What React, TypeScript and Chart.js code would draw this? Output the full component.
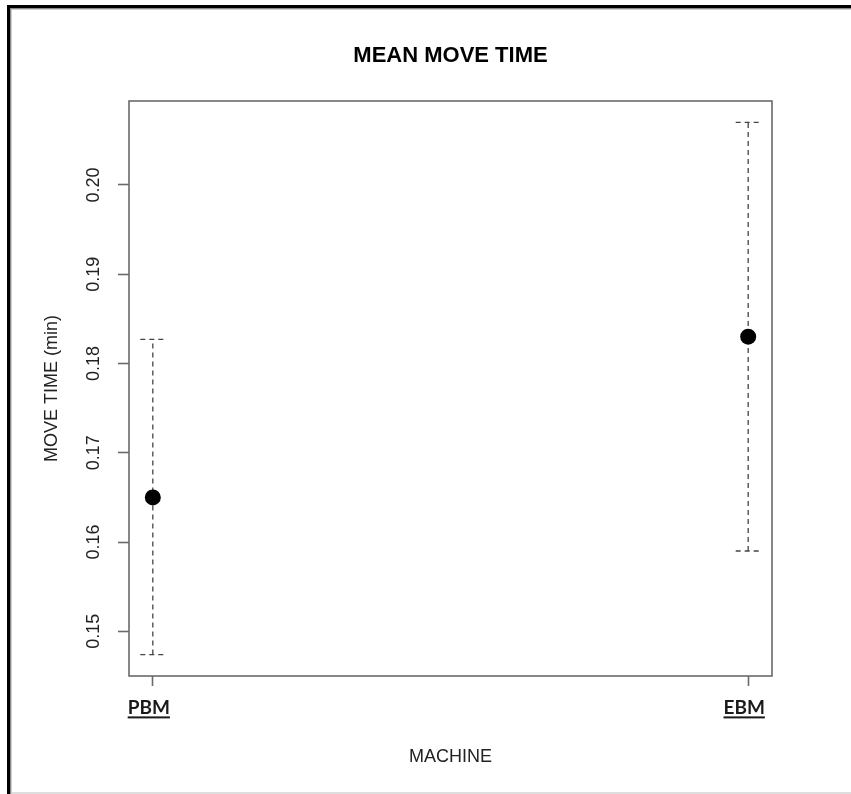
import React, { useEffect, useRef } from "react";
import { Chart, registerables } from "chart.js";

Chart.register(...registerables);

// ---- data ----
const categories = ["PBM", "EBM"];
const xPositions = [1, 2];
const means = [0.165, 0.183];
const lowerBounds = [0.1474, 0.159];
const upperBounds = [0.1827, 0.207];
const yTickValues = [0.15, 0.16, 0.17, 0.18, 0.19, 0.2];
const yMin = 0.145;
const yMax = 0.2094;
const xMin = 0.96;
const xMax = 2.04;
const capHalfWidth = 0.021;

const BASE_FONT = "'Liberation Sans', Arial, sans-serif";
const LABEL_FONT = "Lato, 'Liberation Sans', sans-serif";
const X_LABEL_OFFSET = -4;
const X_LABEL_SIZE = 19;

const framePlugin = {
  id: "frame",
  beforeDraw(chart: any) {
    const { ctx, width, height } = chart;
    ctx.save();
    ctx.fillStyle = "#ffffff";
    ctx.fillRect(0, 0, width, height);
    // light bottom line
    ctx.fillStyle = "#dedede";
    ctx.fillRect(10, height - 2, width - 10, 2);
    // black outer frame (left + top)
    ctx.fillStyle = "#000000";
    ctx.fillRect(7, 5, 3, height - 5);
    ctx.fillRect(7, 5, width - 7, 3);
    ctx.fillStyle = "#8a8a8a";
    ctx.fillRect(10, 8, 1, height - 8);
    ctx.fillRect(10, 8, width - 10, 1);
    ctx.fillStyle = "#cfcfcf";
    ctx.fillRect(11, 9, 1, height - 9);
    ctx.fillRect(11, 9, width - 11, 1);
    ctx.restore();
  },
  afterDraw(chart: any) {
    const { ctx, chartArea } = chart;
    ctx.save();
    // plot box
    ctx.strokeStyle = "#6a6a6a";
    ctx.lineWidth = 1.6;
    ctx.setLineDash([]);
    ctx.strokeRect(chartArea.left, chartArea.top, chartArea.right - chartArea.left, chartArea.bottom - chartArea.top);
    // underline x tick labels
    const xs = chart.scales.x;
    ctx.font = `bold ${X_LABEL_SIZE}px ${LABEL_FONT}`;
    ctx.fillStyle = "#1a1a1a";
    const centerY = xs.top + 10 + 10 + (X_LABEL_SIZE * 1.2) / 2;
    xs.ticks.forEach((t: any) => {
      const idx = xPositions.indexOf(Number(t.value));
      if (idx < 0) return;
      const label = categories[idx];
      const w = ctx.measureText(label).width;
      const cx = xs.getPixelForValue(t.value) + X_LABEL_OFFSET;
      ctx.fillRect(cx - w / 2, centerY + 9, w, 2);
    });
    ctx.restore();
  },
};

export default function App() {
  const canvasRef = useRef<HTMLCanvasElement | null>(null);

  useEffect(() => {
    if (!canvasRef.current) return;
    Chart.defaults.font.family = BASE_FONT;

    const barColor = "#444444";
    const dash = [5, 4];
    const datasets: any[] = [];

    datasets.push({
      label: "mean",
      data: xPositions.map((x, i) => ({ x, y: means[i] })),
      showLine: false,
      pointRadius: 8,
      pointHoverRadius: 8,
      backgroundColor: "#000000",
      borderColor: "#000000",
      pointBorderWidth: 0,
    });

    xPositions.forEach((x, i) => {
      datasets.push({
        label: `bar-${i}`,
        data: [
          { x, y: lowerBounds[i] },
          { x, y: upperBounds[i] },
        ],
        showLine: true,
        pointRadius: 0,
        borderColor: barColor,
        borderWidth: 1.3,
        borderDash: dash,
      });
      datasets.push({
        label: `capU-${i}`,
        data: [
          { x: x - capHalfWidth, y: upperBounds[i] },
          { x: x + capHalfWidth, y: upperBounds[i] },
        ],
        showLine: true,
        pointRadius: 0,
        borderColor: barColor,
        borderWidth: 1.3,
        borderDash: dash,
      });
      datasets.push({
        label: `capL-${i}`,
        data: [
          { x: x - capHalfWidth, y: lowerBounds[i] },
          { x: x + capHalfWidth, y: lowerBounds[i] },
        ],
        showLine: true,
        pointRadius: 0,
        borderColor: barColor,
        borderWidth: 1.3,
        borderDash: dash,
      });
    });

    const chart = new Chart(canvasRef.current, {
      type: "scatter",
      data: { datasets },
      plugins: [framePlugin],
      options: {
        animation: false,
        responsive: false,
        devicePixelRatio: 1,
        layout: { padding: { left: 0, right: 79, top: 0, bottom: 0 } },
        plugins: {
          legend: { display: false },
          tooltip: { enabled: false },
          title: {
            display: true,
            fullSize: false,
            text: "MEAN MOVE TIME",
            color: "#000000",
            font: { family: BASE_FONT, size: 22, weight: "bold" },
            padding: { top: 43, bottom: 31.6 },
          },
        },
        scales: {
          x: {
            type: "linear",
            position: "bottom",
            min: xMin,
            max: xMax,
            afterBuildTicks: (s: any) => {
              s.ticks = xPositions.map((v) => ({ value: v }));
            },
            afterFit: (s: any) => {
              s.height = 118;
            },
            ticks: {
              autoSkip: false,
              maxRotation: 0,
              minRotation: 0,
              padding: 10,
              labelOffset: X_LABEL_OFFSET,
              color: "#1a1a1a",
              font: { family: LABEL_FONT, size: X_LABEL_SIZE, weight: "bold" },
              callback: (v: any) => {
                const idx = xPositions.indexOf(Number(v));
                return idx >= 0 ? categories[idx] : "";
              },
            },
            grid: {
              drawOnChartArea: false,
              drawTicks: true,
              tickLength: 10,
              tickColor: "#6a6a6a",
              tickWidth: 1.6,
            },
            border: { display: false },
            title: {
              display: true,
              text: "MACHINE",
              color: "#222222",
              font: { family: BASE_FONT, size: 18 },
              padding: { top: 0, bottom: 26 },
            },
          },
          y: {
            type: "linear",
            min: yMin,
            max: yMax,
            afterBuildTicks: (s: any) => {
              s.ticks = yTickValues.map((v) => ({ value: v }));
            },
            afterFit: (s: any) => {
              s.width = 129;
            },
            ticks: {
              minRotation: 90,
              maxRotation: 90,
              crossAlign: "center",
              padding: 6,
              color: "#222222",
              font: { family: BASE_FONT, size: 18 },
              callback: (v: any) => Number(v).toFixed(2),
            },
            grid: {
              drawOnChartArea: false,
              drawTicks: true,
              tickLength: 11,
              tickColor: "#6a6a6a",
              tickWidth: 1.6,
            },
            border: { display: false },
            title: {
              display: true,
              text: "MOVE TIME (min)",
              color: "#222222",
              font: { family: BASE_FONT, size: 18 },
              padding: { top: 41, bottom: 0 },
            },
          },
        },
      } as any,
    });

    return () => {
      chart.destroy();
    };
  }, []);

  return (
    <div style={{ position: "absolute", left: 0, top: 0, width: 851, height: 794, background: "#fff" }}>
      <canvas ref={canvasRef} width={851} height={794} style={{ display: "block", width: 851, height: 794 }} />
    </div>
  );
}
